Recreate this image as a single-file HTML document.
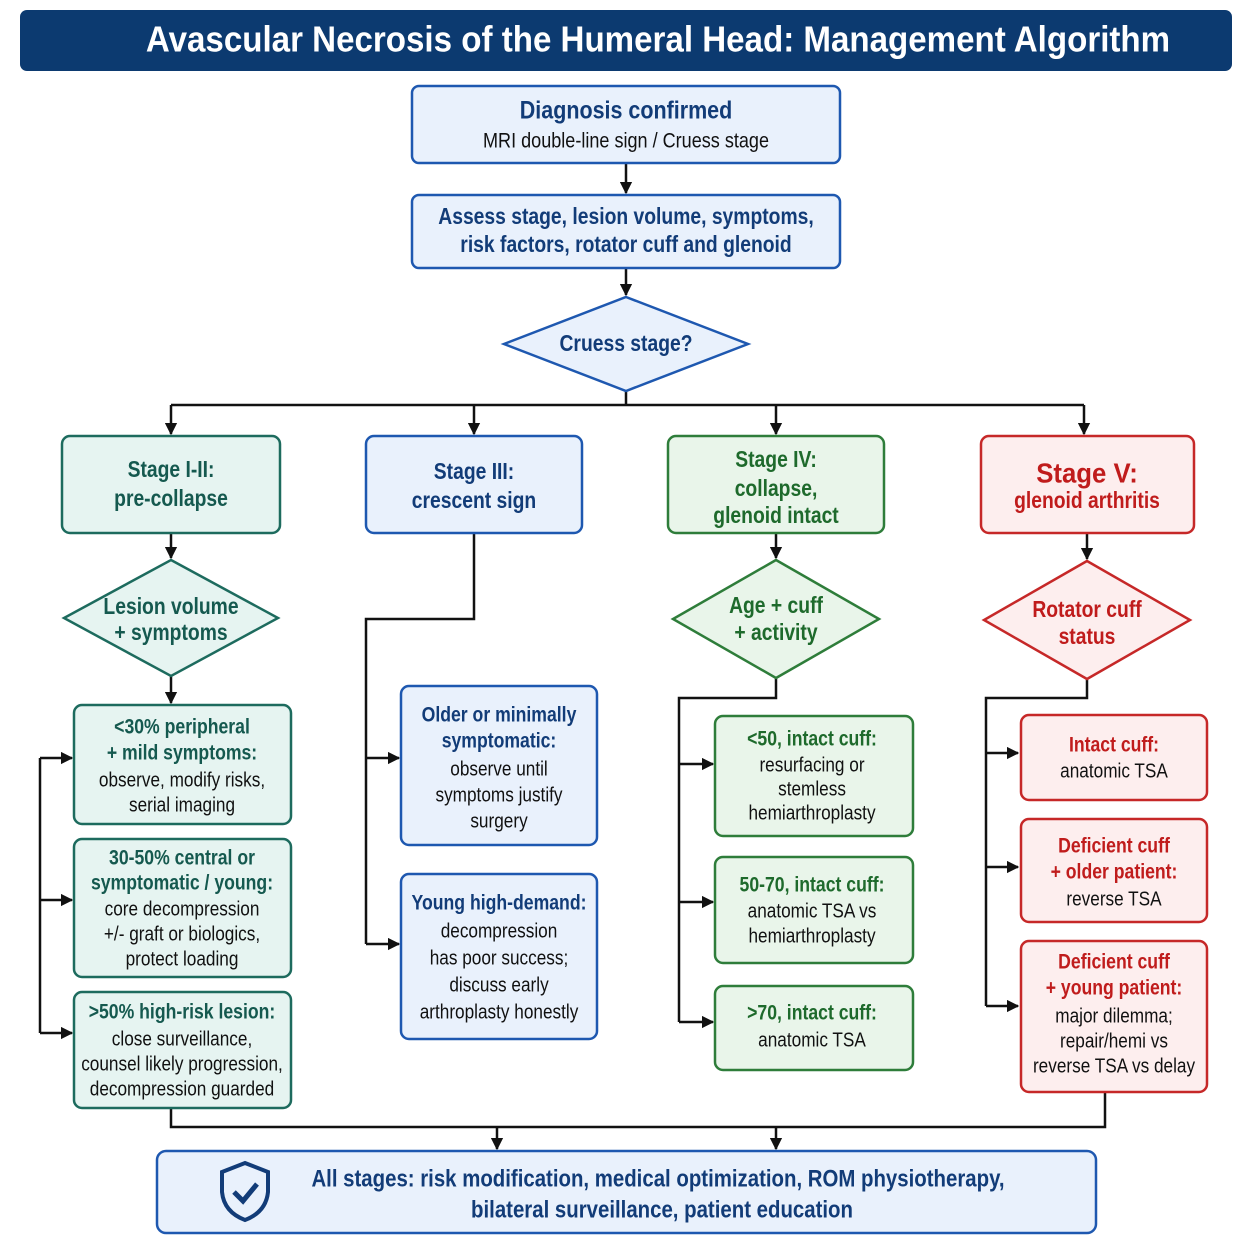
<!DOCTYPE html>
<html><head><meta charset="utf-8"><style>
html,body{margin:0;padding:0;background:#fff}
svg{display:block}
text{font-family:"Liberation Sans",sans-serif;text-anchor:middle;dominant-baseline:middle}
.b{font-weight:bold}
.nv{fill:#123c78}.tl{fill:#15594f}.gr{fill:#1e6a2c}.rd{fill:#c01c1c}.k{fill:#111}
.ln{stroke:#111;stroke-width:2.5;fill:none}
</style></head><body>
<svg width="1254" height="1254" viewBox="0 0 1254 1254" xmlns="http://www.w3.org/2000/svg">
<defs><marker id="a" viewBox="0 0 10 10" refX="9" refY="5" markerWidth="5" markerHeight="5" orient="auto"><path d="M0,0L10,5L0,10z" fill="#111"/></marker></defs>
<rect x="20" y="10" width="1212" height="61" rx="7" fill="#0c3a70"/>
<text transform="translate(658 42) scale(.92 1)" font-size="36" class="b" fill="#fff">Avascular Necrosis of the Humeral Head: Management Algorithm</text>

<g class="ln">
<path d="M626 163V193" marker-end="url(#a)"/>
<path d="M626 268V295" marker-end="url(#a)"/>
<path d="M626 391V405M171 405H1084"/>
<path d="M171 405V434" marker-end="url(#a)"/><path d="M474 405V434" marker-end="url(#a)"/><path d="M776 405V434" marker-end="url(#a)"/><path d="M1084 405V434" marker-end="url(#a)"/>
<path d="M171 533V558" marker-end="url(#a)"/><path d="M171 676V703" marker-end="url(#a)"/>
<path d="M40 758V1033"/><path d="M40 758H72" marker-end="url(#a)"/><path d="M40 900H72" marker-end="url(#a)"/><path d="M40 1033H72" marker-end="url(#a)"/>
<path d="M474 533V619H366V944"/><path d="M366 758H399" marker-end="url(#a)"/><path d="M366 944H399" marker-end="url(#a)"/>
<path d="M776 533V558" marker-end="url(#a)"/><path d="M776 678V698H679V1022"/>
<path d="M679 764H713" marker-end="url(#a)"/><path d="M679 902H713" marker-end="url(#a)"/><path d="M679 1022H713" marker-end="url(#a)"/>
<path d="M1087 533V559" marker-end="url(#a)"/><path d="M1087 678V698H986V1006"/>
<path d="M986 753H1018" marker-end="url(#a)"/><path d="M986 867H1018" marker-end="url(#a)"/><path d="M986 1006H1018" marker-end="url(#a)"/>
<path d="M171 1108V1127H1105V1092"/><path d="M497 1127V1149" marker-end="url(#a)"/><path d="M776 1127V1149" marker-end="url(#a)"/>
</g>

<g stroke-width="2.5">
<rect x="412" y="86" width="428" height="77" rx="7" fill="#e9f1fc" stroke="#1e58b0"/>
<rect x="412" y="195" width="428" height="73" rx="7" fill="#e9f1fc" stroke="#1e58b0"/>
<path d="M626 297L748 344L626 391L504 344Z" fill="#e9f1fc" stroke="#1e58b0"/>
<rect x="62" y="436" width="218" height="97" rx="8" fill="#e6f4f1" stroke="#1d6b5e"/>
<rect x="366" y="436" width="216" height="97" rx="8" fill="#e9f1fc" stroke="#1e58b0"/>
<rect x="668" y="436" width="216" height="97" rx="8" fill="#e9f5ea" stroke="#2e7d3a"/>
<rect x="981" y="436" width="213" height="97" rx="8" fill="#fdeeee" stroke="#c62828"/>
<path d="M171 560L278 618L171 676L64 618Z" fill="#e6f4f1" stroke="#1d6b5e"/>
<path d="M776 560L879 619L776 678L673 619Z" fill="#e9f5ea" stroke="#2e7d3a"/>
<path d="M1087 561L1190 620L1087 679L984 620Z" fill="#fdeeee" stroke="#c62828"/>
<rect x="74" y="705" width="217" height="119" rx="8" fill="#e6f4f1" stroke="#1d6b5e"/>
<rect x="74" y="839" width="217" height="138" rx="8" fill="#e6f4f1" stroke="#1d6b5e"/>
<rect x="74" y="992" width="217" height="116" rx="8" fill="#e6f4f1" stroke="#1d6b5e"/>
<rect x="401" y="686" width="196" height="159" rx="8" fill="#e9f1fc" stroke="#1e58b0"/>
<rect x="401" y="874" width="196" height="165" rx="8" fill="#e9f1fc" stroke="#1e58b0"/>
<rect x="715" y="716" width="198" height="120" rx="8" fill="#e9f5ea" stroke="#2e7d3a"/>
<rect x="715" y="857" width="198" height="106" rx="8" fill="#e9f5ea" stroke="#2e7d3a"/>
<rect x="715" y="986" width="198" height="84" rx="8" fill="#e9f5ea" stroke="#2e7d3a"/>
<rect x="1021" y="715" width="186" height="85" rx="8" fill="#fdeeee" stroke="#c62828"/>
<rect x="1021" y="819" width="186" height="103" rx="8" fill="#fdeeee" stroke="#c62828"/>
<rect x="1021" y="941" width="186" height="151" rx="8" fill="#fdeeee" stroke="#c62828"/>
<rect x="157" y="1151" width="939" height="82" rx="9" fill="#e9f1fc" stroke="#1e58b0"/>
</g>
<path d="M245 1163L268 1172V1192Q266 1212 245 1220Q224 1212 222 1192V1172Z" fill="none" stroke="#123c78" stroke-width="4"/>
<path d="M234 1192L243 1201L257 1184" fill="none" stroke="#123c78" stroke-width="5"/>

<g font-size="23">
<text transform="translate(626 112) scale(.86 1)" class="b nv" font-size="25">Diagnosis confirmed</text>
<text transform="translate(626 142) scale(.86 1)" class="k" font-size="21">MRI double-line sign / Cruess stage</text>
<text transform="translate(626 218) scale(.84 1)" class="b nv">Assess stage, lesion volume, symptoms,</text>
<text transform="translate(626 246) scale(.84 1)" class="b nv">risk factors, rotator cuff and glenoid</text>
<text transform="translate(626 345) scale(.84 1)" class="b nv">Cruess stage?</text>
<text transform="translate(171 471) scale(.84 1)" class="b tl">Stage I-II:</text><text transform="translate(171 500) scale(.84 1)" class="b tl">pre-collapse</text>
<text transform="translate(474 473) scale(.84 1)" class="b nv">Stage III:</text><text transform="translate(474 502) scale(.84 1)" class="b nv">crescent sign</text>
<text transform="translate(776 461) scale(.84 1)" class="b gr">Stage IV:</text><text transform="translate(776 490) scale(.84 1)" class="b gr">collapse,</text><text transform="translate(776 517) scale(.84 1)" class="b gr">glenoid intact</text>
<text transform="translate(1087 475) scale(.92 1)" class="b rd" font-size="28">Stage V:</text><text transform="translate(1087 502) scale(.84 1)" class="b rd">glenoid arthritis</text>
<text transform="translate(171 608) scale(.84 1)" class="b tl">Lesion volume</text><text transform="translate(171 634) scale(.84 1)" class="b tl">+ symptoms</text>
<text transform="translate(776 607) scale(.84 1)" class="b gr">Age + cuff</text><text transform="translate(776 634) scale(.84 1)" class="b gr">+ activity</text>
<text transform="translate(1087 611) scale(.84 1)" class="b rd">Rotator cuff</text><text transform="translate(1087 638) scale(.84 1)" class="b rd">status</text>
</g>
<g font-size="20">
<text transform="translate(182 728) scale(.84 1)" class="b tl" font-size="21">&lt;30% peripheral</text><text transform="translate(182 754) scale(.84 1)" class="b tl" font-size="21">+ mild symptoms:</text>
<text transform="translate(182 781) scale(.86 1)" class="k">observe, modify risks,</text><text transform="translate(182 806) scale(.86 1)" class="k">serial imaging</text>
<text transform="translate(182 859) scale(.84 1)" class="b tl" font-size="21">30-50% central or</text><text transform="translate(182 884) scale(.84 1)" class="b tl" font-size="21">symptomatic / young:</text>
<text transform="translate(182 910) scale(.86 1)" class="k">core decompression</text><text transform="translate(182 935) scale(.86 1)" class="k">+/- graft or biologics,</text><text transform="translate(182 960) scale(.86 1)" class="k">protect loading</text>
<text transform="translate(182 1013) scale(.84 1)" class="b tl" font-size="21">&gt;50% high-risk lesion:</text>
<text transform="translate(182 1040) scale(.86 1)" class="k">close surveillance,</text><text transform="translate(182 1065) scale(.86 1)" class="k">counsel likely progression,</text><text transform="translate(182 1090) scale(.86 1)" class="k">decompression guarded</text>
<text transform="translate(499 716) scale(.84 1)" class="b nv" font-size="21">Older or minimally</text><text transform="translate(499 742) scale(.84 1)" class="b nv" font-size="21">symptomatic:</text>
<text transform="translate(499 770) scale(.86 1)" class="k">observe until</text><text transform="translate(499 796) scale(.86 1)" class="k">symptoms justify</text><text transform="translate(499 822) scale(.86 1)" class="k">surgery</text>
<text transform="translate(499 904) scale(.84 1)" class="b nv" font-size="21">Young high-demand:</text>
<text transform="translate(499 932) scale(.86 1)" class="k">decompression</text><text transform="translate(499 959) scale(.86 1)" class="k">has poor success;</text><text transform="translate(499 986) scale(.86 1)" class="k">discuss early</text><text transform="translate(499 1013) scale(.86 1)" class="k">arthroplasty honestly</text>
<text transform="translate(812 740) scale(.84 1)" class="b gr" font-size="21">&lt;50, intact cuff:</text>
<text transform="translate(812 766) scale(.86 1)" class="k">resurfacing or</text><text transform="translate(812 790) scale(.86 1)" class="k">stemless</text><text transform="translate(812 814) scale(.86 1)" class="k">hemiarthroplasty</text>
<text transform="translate(812 886) scale(.84 1)" class="b gr" font-size="21">50-70, intact cuff:</text>
<text transform="translate(812 912) scale(.86 1)" class="k">anatomic TSA vs</text><text transform="translate(812 937) scale(.86 1)" class="k">hemiarthroplasty</text>
<text transform="translate(812 1014) scale(.84 1)" class="b gr" font-size="21">&gt;70, intact cuff:</text><text transform="translate(812 1041) scale(.86 1)" class="k">anatomic TSA</text>
<text transform="translate(1114 746) scale(.84 1)" class="b rd" font-size="21">Intact cuff:</text><text transform="translate(1114 772) scale(.86 1)" class="k">anatomic TSA</text>
<text transform="translate(1114 847) scale(.84 1)" class="b rd" font-size="21">Deficient cuff</text><text transform="translate(1114 873) scale(.84 1)" class="b rd" font-size="21">+ older patient:</text><text transform="translate(1114 900) scale(.86 1)" class="k">reverse TSA</text>
<text transform="translate(1114 963) scale(.84 1)" class="b rd" font-size="21">Deficient cuff</text><text transform="translate(1114 989) scale(.84 1)" class="b rd" font-size="21">+ young patient:</text>
<text transform="translate(1114 1017) scale(.86 1)" class="k">major dilemma;</text><text transform="translate(1114 1042) scale(.86 1)" class="k">repair/hemi vs</text><text transform="translate(1114 1067) scale(.86 1)" class="k">reverse TSA vs delay</text>
</g>
<text transform="translate(658 1180) scale(.85 1)" class="b nv" font-size="24">All stages: risk modification, medical optimization, ROM physiotherapy,</text>
<text transform="translate(662 1211) scale(.85 1)" class="b nv" font-size="24">bilateral surveillance, patient education</text>
</svg>
</body></html>
